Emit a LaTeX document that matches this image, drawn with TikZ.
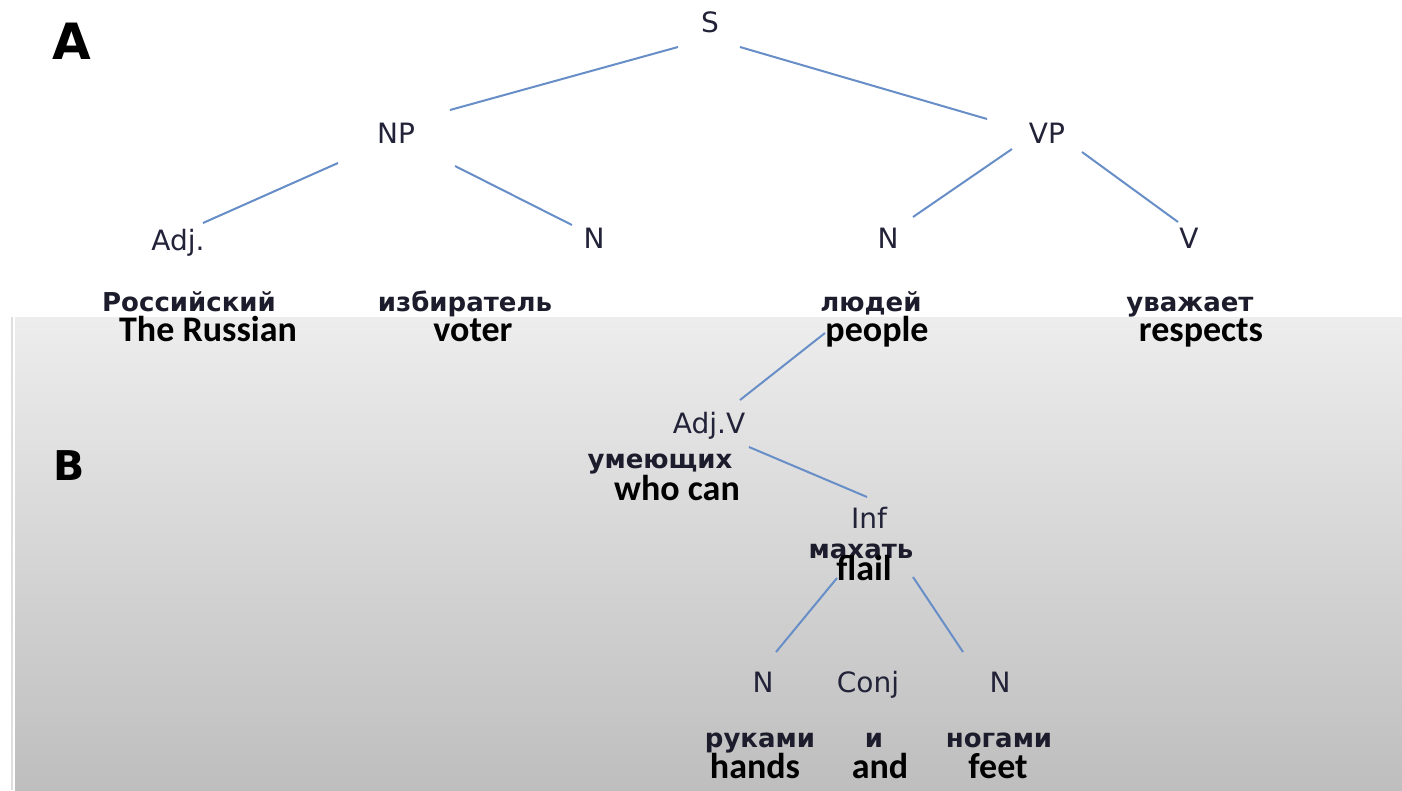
\documentclass[tikz,border=0pt]{standalone}
\usepackage{fontspec}
\setmainfont{DejaVu Sans}
\newfontfamily\engfont{Carlito}
\definecolor{edgec}{RGB}{104,142,200}
\definecolor{labc}{RGB}{34,34,56}
\definecolor{ruc}{RGB}{28,28,44}
\definecolor{bgtop}{RGB}{237,237,237}
\definecolor{bgbot}{RGB}{190,190,190}
\definecolor{rimc}{RGB}{222,222,222}
\begin{document}
\begin{tikzpicture}[x=1pt,y=-1pt,
  every node/.style={inner sep=0pt,outer sep=0pt,anchor=base},
  cat/.style={font=\fontsize{28}{28}\selectfont, text=labc},
  ru/.style={font=\bfseries\fontsize{26}{26}\selectfont, text=ruc},
  en/.style={font=\engfont\bfseries\fontsize{36}{36}\selectfont, text=black},
  panel/.style={font=\bfseries\fontsize{#1}{#1}\selectfont, text=black, anchor=base west},
  edge/.style={draw=edgec, line width=2pt}]
\useasboundingbox (0,0) rectangle (1402,790);
% background
\fill[white] (0,0) rectangle (1402,790);
\shade[top color=bgtop, bottom color=bgbot] (15,317) rectangle (1402,790);
\draw[rimc, line width=1.5pt] (12,317) -- (12,790);

% panel letters
\node[panel=50] (pA) at (52,59) {A};
\node[panel=41] (pB) at (53,480) {B};

% tree A
\node[cat] (S) at (710,32) {S};
\node[cat] (NP) at (396,143) {NP};
\node[cat] (VP) at (1047,143) {VP};
\node[cat] (Adj) at (178,250) {Adj.};
\node[cat] (N1) at (594,248) {N};
\node[cat] (N2) at (888,248) {N};
\node[cat] (V) at (1189,248) {V};

\node[ru] (w1) at (189,311) {Российский};
\node[ru] (w2) at (465,311) {избиратель};
\node[ru] (w3) at (871,311) {людей};
\node[ru] (w4) at (1190,311) {уважает};
\node[en] (e1) at (208,341) {The Russian};
\node[en] (e2) at (473,341) {voter};
\node[en] (e3) at (877,341) {people};
\node[en] (e4) at (1201,341) {respects};

% tree B
\node[cat] (AdjV) at (709,433) {Adj.V};
\node[ru] (w5) at (660,468) {умеющих};
\node[en] (e5) at (677,500) {who can};
\node[cat] (Inf) at (869,528) {Inf};
\node[ru] (w6) at (861,558) {махать};
\node[en] (e6) at (864,580) {flail};
\node[cat] (N3) at (763,692) {N};
\node[cat] (Conj) at (868,692) {Conj};
\node[cat] (N4) at (1000,692) {N};
\node[ru] (w7) at (760,747) {руками};
\node[ru] (w8) at (874,747) {и};
\node[ru] (w9) at (999,747) {ногами};
\node[en] (e7) at (755,778) {hands};
\node[en] (e8) at (880,778) {and};
\node[en] (e9) at (998,778) {feet};

% edges
\draw[edge] ([shift={(-32,15)}]S.base) -- ([shift={(54,-33)}]NP.base);
\draw[edge] ([shift={(30,15)}]S.base) -- ([shift={(-60,-24)}]VP.base);
\draw[edge] ([shift={(-58,20)}]NP.base) -- ([shift={(25,-27)}]Adj.base);
\draw[edge] ([shift={(59,23)}]NP.base) -- ([shift={(-22,-23)}]N1.base);
\draw[edge] ([shift={(-35,6)}]VP.base) -- ([shift={(25,-31)}]N2.base);
\draw[edge] ([shift={(35,9)}]VP.base) -- ([shift={(-11,-26)}]V.base);
\draw[edge] ([shift={(-52,-8)}]e3.base) -- ([shift={(31,-33)}]AdjV.base);
\draw[edge] ([shift={(40,14)}]AdjV.base) -- ([shift={(-2,-31)}]Inf.base);
\draw[edge] ([shift={(-32,50)}]Inf.base) -- ([shift={(13,-40)}]N3.base);
\draw[edge] ([shift={(44,49)}]Inf.base) -- ([shift={(-37,-40)}]N4.base);
\end{tikzpicture}
\end{document}
